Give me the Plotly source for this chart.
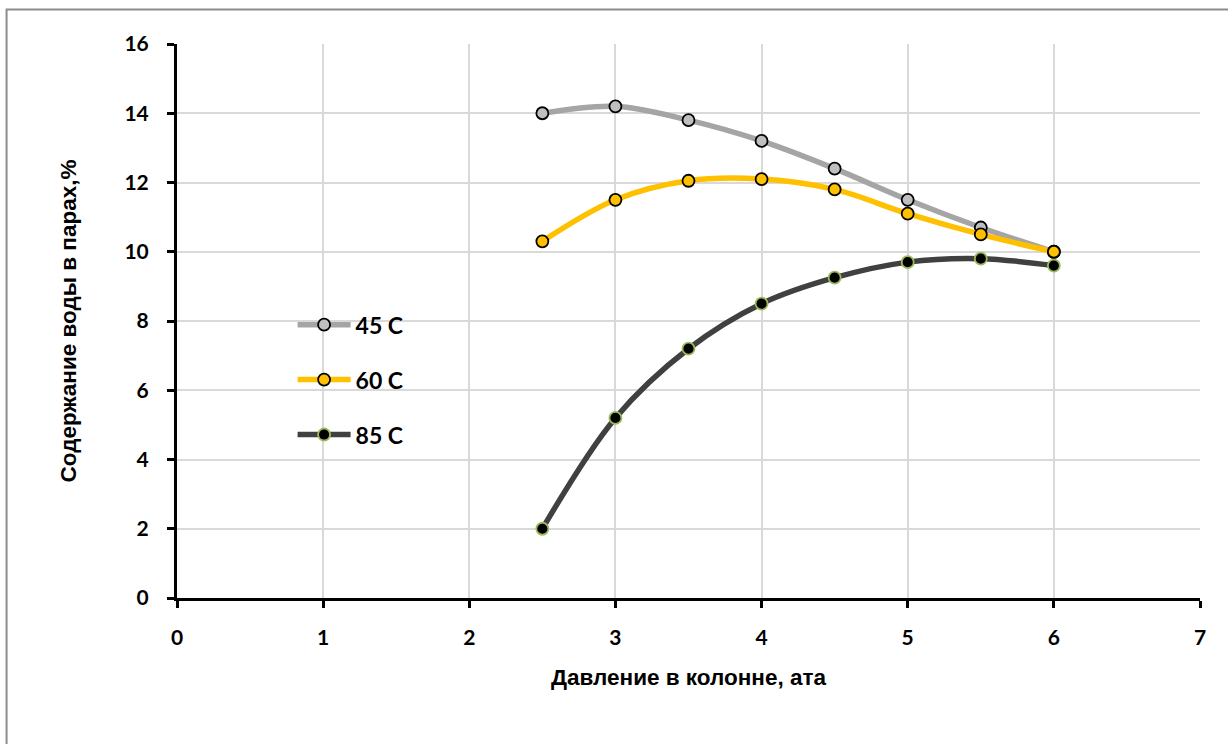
import plotly.graph_objects as go

# Pressure in the column, ata
pressure = [2.5, 3.0, 3.5, 4.0, 4.5, 5.0, 5.5, 6.0]

# Water content in vapour, % at three temperatures
water_45 = [14.0, 14.2, 13.8, 13.2, 12.4, 11.5, 10.7, 10.0]
water_60 = [10.3, 11.5, 12.05, 12.1, 11.8, 11.1, 10.5, 10.0]
water_85 = [2.0, 5.2, 7.2, 8.5, 9.25, 9.7, 9.8, 9.6]

series_names = ["45 C", "60 C", "85 C"]

x_ticks = [0, 1, 2, 3, 4, 5, 6, 7]
y_ticks = [0, 2, 4, 6, 8, 10, 12, 14, 16]

styles = [
    dict(line="#A5A5A5", fill="#BFBFBF", edge="#000000"),
    dict(line="#FFC000", fill="#FFC000", edge="#000000"),
    dict(line="#404040", fill="#000000", edge="#9BBB59"),
]

fig = go.Figure()
for name, ys, st in zip(series_names, [water_45, water_60, water_85], styles):
    fig.add_trace(go.Scatter(
        x=pressure, y=ys, name=f"<b>{name}</b>", legendgroup=name,
        mode="lines+markers",
        line=dict(color=st["line"], width=5.5, shape="spline", smoothing=1.0),
        marker=dict(size=12, color=st["fill"], line=dict(color=st["edge"], width=1.8)),
    ))

tick_font = dict(family="Lato, Open Sans, sans-serif", size=21, color="#000000")
title_font = dict(family="Liberation Sans, Arial, sans-serif", size=22.5, color="#000000")

fig.update_layout(
    width=1228, height=744,
    margin=dict(l=177, r=28, t=44, b=146),
    paper_bgcolor="#FFFFFF", plot_bgcolor="#FFFFFF",
    showlegend=True,
    legend=dict(
        x=0.113, y=0.532, xanchor="left", yanchor="top",
        bgcolor="rgba(0,0,0,0)",
        font=dict(family="Lato, Open Sans, sans-serif", size=23, color="#000000"),
        traceorder="grouped", tracegroupgap=22, itemwidth=53,
    ),
    xaxis=dict(
        range=[0, 7], tickvals=x_ticks, ticktext=[f"<b>{v}</b>" for v in x_ticks],
        showgrid=True, gridcolor="#D9D9D9", gridwidth=1.5,
        showline=True, linecolor="#000000", linewidth=3,
        ticks="outside", ticklen=7, tickwidth=3, tickcolor="#000000",
        tickfont=tick_font, zeroline=False, ticklabelstandoff=12,
        title=dict(text="<b>Давление в колонне, ата</b>", font=title_font, standoff=22),
    ),
    yaxis=dict(
        range=[0, 16], tickvals=y_ticks, ticktext=[f"<b>{v}</b>" for v in y_ticks],
        showgrid=True, gridcolor="#D9D9D9", gridwidth=1.5,
        showline=True, linecolor="#000000", linewidth=3,
        ticks="outside", ticklen=7, tickwidth=3, tickcolor="#000000",
        tickfont=tick_font, zeroline=False, ticklabelstandoff=14,
        title=dict(text="<b>Содержание воды в парах,%</b>", font=title_font, standoff=42),
    ),
    shapes=[dict(
        type="rect", xref="paper", yref="paper",
        x0=-0.1666, x1=1.05, y0=-0.3, y1=1.0623,
        line=dict(color="#8C8C8C", width=2), fillcolor="rgba(0,0,0,0)", layer="below",
    )],
)

fig.write_html("out.html")
